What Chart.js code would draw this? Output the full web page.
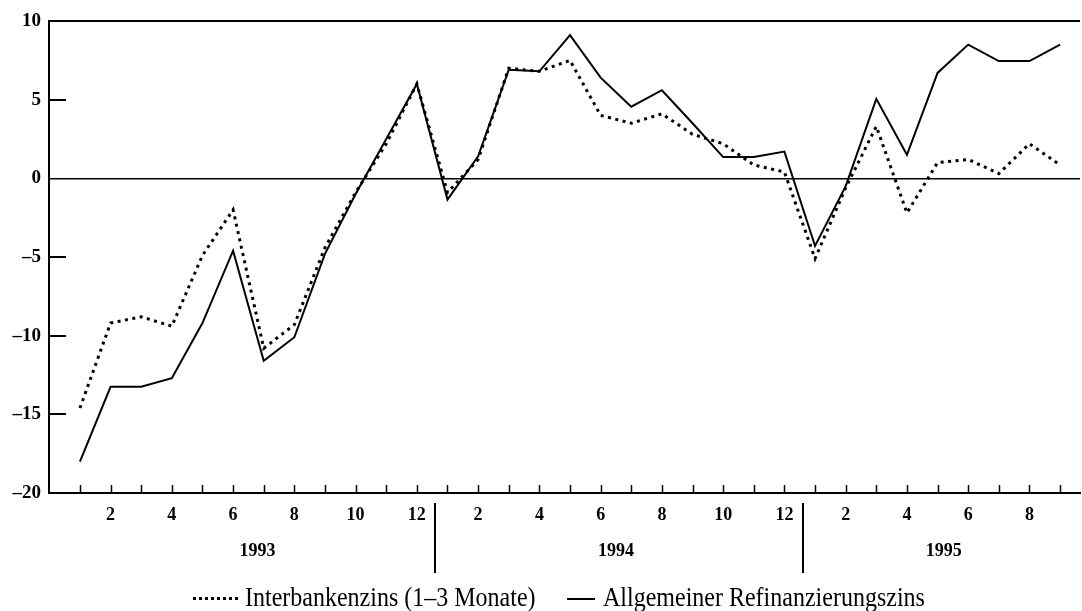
<!DOCTYPE html>
<html>
<head>
<meta charset="utf-8">
<script src="https://cdn.jsdelivr.net/npm/chart.js@4/dist/chart.umd.min.js"></script>
<style>
  html, body { margin: 0; padding: 0; background: #fff; }
  #wrap { position: relative; width: 1082px; height: 611px; overflow: hidden; }
  #legend { position: absolute; left: 0; top: 0; width: 1082px; height: 611px; pointer-events: none;
            font-family: "Liberation Serif", "DejaVu Serif", serif; font-size: 24px; color: #000; }
  .lg-text { position: absolute; top: 583px; line-height: 28px; white-space: nowrap;
             transform: scaleY(1.12); transform-origin: left center; }
  .lg-line { position: absolute; }
</style>
</head>
<body>
<div id="wrap">
  <canvas id="cchart" width="1082" height="611"></canvas>
  <div id="legend">
    <div class="lg-line" style="left:193px; top:597px; width:45px; border-top:3px dotted #000;"></div>
    <div class="lg-text" style="left:245px;">Interbankenzins (1–3 Monate)</div>
    <div class="lg-line" style="left:567px; top:598px; width:28px; border-top:2px solid #000;"></div>
    <div class="lg-text" style="left:603px;">Allgemeiner Refinanzierungszins</div>
  </div>
</div>
<script>
// months 1/1993 .. 9/1995
let months = [1,2,3,4,5,6,7,8,9,10,11,12, 1,2,3,4,5,6,7,8,9,10,11,12, 1,2,3,4,5,6,7,8,9];
let years = ["1993", "1994", "1995"];

// Interbankenzins (1-3 Monate), dotted
let interbank = [-14.6, -9.2, -8.8, -9.4, -4.9, -2.0, -10.8, -9.3, -4.4, -0.9, 2.2, 6.0,
                 -0.9, 1.2, 7.0, 6.8, 7.5, 4.0, 3.5, 4.1, 2.8, 2.2, 0.85, 0.4,
                 -5.1, -0.6, 3.3, -2.2, 1.0, 1.2, 0.3, 2.2, 0.85];
// Allgemeiner Refinanzierungszins, solid
let refi = [-18.0, -13.25, -13.25, -12.7, -9.2, -4.6, -11.6, -10.1, -4.8, -1.0, 2.5, 6.0,
            -1.35, 1.4, 6.9, 6.8, 9.1, 6.4, 4.55, 5.6, 3.5, 1.35, 1.35, 1.7,
            -4.3, -0.5, 5.05, 1.5, 6.7, 8.5, 7.45, 7.45, 8.5];

// where the year captions and the year dividers sit on the month axis
let yearCenters = [5.8, 17.5, 28.2];
let yearDividers = [11.6, 23.6];

const FONT = '"Liberation Serif", "DejaVu Serif", serif';

/*
    Tick marks drawn inward, year row and dividers
*/
const decoPlugin = {
    id: 'deco',
    afterDraw(chart) {
        const ctx = chart.ctx;
        const area = chart.chartArea;
        const x = chart.scales.x;
        const y = chart.scales.y;
        ctx.save();
        ctx.strokeStyle = '#000';
        ctx.lineWidth = 2;

        // y ticks, pointing into the plot
        y.ticks.forEach(t => {
            if (t.value === y.min || t.value === y.max || t.value === 0) return;
            const py = Math.round(y.getPixelForValue(t.value));
            ctx.beginPath();
            ctx.moveTo(area.left, py);
            ctx.lineTo(area.left + 17, py);
            ctx.stroke();
        });

        // month ticks, pointing up from the bottom axis
        ctx.lineWidth = 1.5;
        months.forEach((m, i) => {
            const px = Math.round(x.getPixelForValue(i)) + 0.5;
            ctx.beginPath();
            ctx.moveTo(px, area.bottom);
            ctx.lineTo(px, area.bottom - 8);
            ctx.stroke();
        });

        // year dividers
        ctx.lineWidth = 2;
        yearDividers.forEach(v => {
            const px = Math.round(x.getPixelForValue(v));
            ctx.beginPath();
            ctx.moveTo(px, area.bottom + 10);
            ctx.lineTo(px, area.bottom + 80);
            ctx.stroke();
        });

        // year captions
        ctx.fillStyle = '#000';
        ctx.font = 'bold 18px ' + FONT;
        ctx.textAlign = 'center';
        ctx.textBaseline = 'middle';
        years.forEach((yr, i) => {
            ctx.fillText(yr, x.getPixelForValue(yearCenters[i]), area.bottom + 58);
        });
        ctx.restore();
    }
};

let UICanvasChartContext = document.getElementById('cchart').getContext('2d');
let _chart = new Chart(UICanvasChartContext, {
    type: 'line',
    data: {
        datasets: [{
            label: 'Interbankenzins (1–3 Monate)',
            data: interbank.map((v, i) => ({ x: i, y: v })),
            borderColor: '#000',
            borderWidth: 3,
            borderDash: [3, 4.5],
            pointRadius: 0,
            tension: 0,
            fill: false
        },
        {
            label: 'Allgemeiner Refinanzierungszins',
            data: refi.map((v, i) => ({ x: i, y: v })),
            borderColor: '#000',
            borderWidth: 2,
            pointRadius: 0,
            tension: 0,
            fill: false
        }]
    },
    options: {
        responsive: false,
        animation: false,
        devicePixelRatio: 1,
        layout: { padding: { top: 21, right: 2, left: 0, bottom: 0 } },
        plugins: { legend: { display: false }, tooltip: { enabled: false } },
        scales: {
            x: {
                type: 'linear',
                min: -1.01,
                max: 32.65,
                afterBuildTicks: scale => {
                    scale.ticks = months.map((m, i) => ({ value: i }));
                },
                afterFit: scale => { scale.height = 118; },
                ticks: {
                    autoSkip: false,
                    maxRotation: 0,
                    padding: 12,
                    color: '#000',
                    font: { family: FONT, size: 18, weight: 'bold' },
                    callback: (v) => {
                        let m = months[v];
                        return (m !== undefined && m % 2 === 0) ? String(m) : '';
                    }
                },
                grid: { display: false, drawTicks: false },
                border: { display: true, color: '#000', width: 2 }
            },
            y: {
                min: -20,
                max: 10,
                afterFit: scale => { scale.width = 49; },
                ticks: {
                    stepSize: 5,
                    padding: 8,
                    color: '#000',
                    font: { family: FONT, size: 19, weight: 'bold' },
                    callback: v => v < 0 ? '\u2013' + Math.abs(v) : String(v)
                },
                grid: {
                    drawTicks: false,
                    color: ctx => (ctx.tick && (ctx.tick.value === 0 || ctx.tick.value === 10)) ? '#000' : 'rgba(0,0,0,0)',
                    lineWidth: ctx => (ctx.tick && ctx.tick.value === 10) ? 2 : 1.5
                },
                border: { display: true, color: '#000', width: 2 }
            }
        }
    },
    plugins: [decoPlugin]
});
</script>
</body>
</html>
